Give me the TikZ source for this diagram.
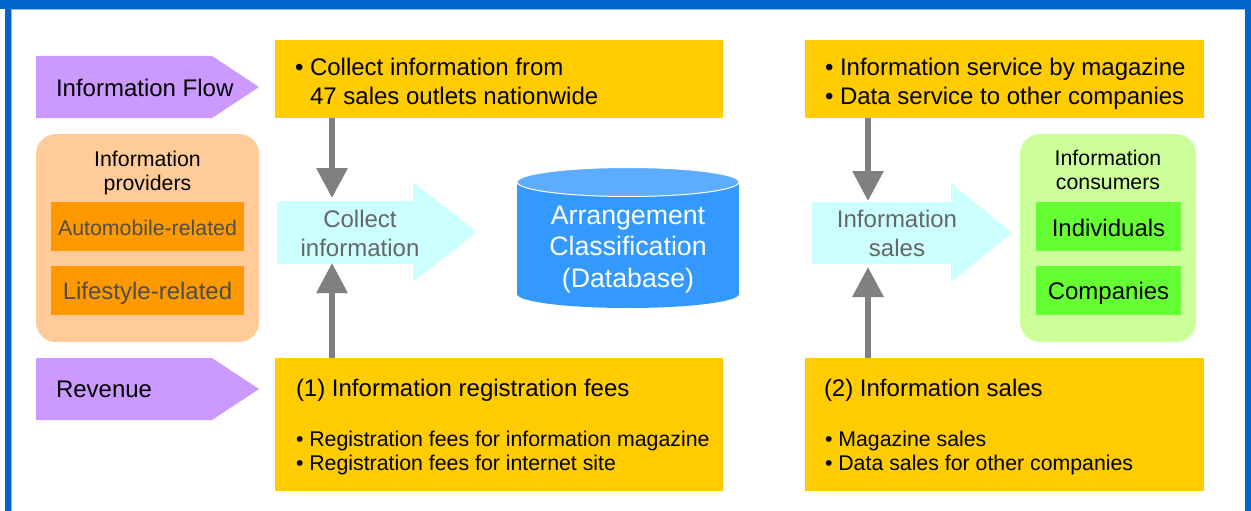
\documentclass[tikz,border=0pt]{standalone}
\usepackage{fontspec}
\setmainfont{Liberation Sans}
\usetikzlibrary{arrows.meta}
\definecolor{frameblue}{HTML}{0066CC}
\definecolor{frameinner}{HTML}{8FBCEB}
\definecolor{flowpurple}{HTML}{CC99FF}
\definecolor{boxyellow}{HTML}{FFCC00}
\definecolor{peach}{HTML}{FFCC99}
\definecolor{orangebox}{HTML}{FF9900}
\definecolor{paleblue}{HTML}{CCFFFF}
\definecolor{arrowgray}{HTML}{808080}
\definecolor{dbblue}{HTML}{3399FF}
\definecolor{dbtop}{HTML}{5CADFF}
\definecolor{lightgreen}{HTML}{CCFF99}
\definecolor{brightgreen}{HTML}{66FF33}
\definecolor{softtext}{HTML}{666666}
\definecolor{darktext}{HTML}{4D4D4D}
\begin{document}
\begin{tikzpicture}[x=1pt,y=-1pt,
  box/.style={anchor=north west, inner sep=0pt, outer sep=0pt},
  yellowbox/.style={box, fill=boxyellow, minimum height=78pt},
  bigyellow/.style={box, fill=boxyellow, minimum height=133pt},
  roundbox/.style={box, rounded corners=20pt, minimum width=#1, minimum height=208pt},
  subbox/.style={box, minimum height=49pt},
  fbig/.style={font=\fontsize{24}{29}\selectfont},
  fsmall/.style={font=\fontsize{21.3}{24}\selectfont},
  fdb/.style={font=\fontsize{26.7}{31.5}\selectfont},
  txt/.style={inner sep=0pt, outer sep=0pt},
  grayarrow/.style={draw=arrowgray, line width=6pt, -{Triangle[width=30pt,length=30pt]}},
  pentagon/.style={fill=flowpurple},
  bigarrow/.style={fill=paleblue}
]
\useasboundingbox (0,0) rectangle (1251,511);
\fill[white] (0,0) rectangle (1251,511);
% frame
\fill[frameblue] (0,0) rectangle (1251,9);
\fill[frameblue] (5,9) rectangle (11,511);
\fill[frameblue] (1245,9) rectangle (1251,511);
\fill[frameinner] (11,9) rectangle (1245,10);
\fill[frameinner] (11,10) rectangle (12,511);

% purple pentagons
\fill[pentagon] (36,56) -- (212,56) -- (259,87) -- (212,118) -- (36,118) -- cycle;
\node[txt, fbig, anchor=west] (flow) at (56,87.5) {Information Flow};
\fill[pentagon] (36,358) -- (212,358) -- (259,389) -- (212,420) -- (36,420) -- cycle;
\node[txt, fbig, anchor=west] (rev) at (56,389) {Revenue};

% yellow boxes top
\node[yellowbox, minimum width=448pt] (collectbox) at (275,40) {};
\node[txt, fbig, anchor=west, align=left] (collecttxt) at (295,81)
  {• Collect information from\\\phantom{• }47 sales outlets nationwide};
\node[yellowbox, minimum width=399pt] (servicebox) at (805,40) {};
\node[txt, fbig, anchor=west, align=left] (servicetxt) at (825,84)
  {• Information service by magazine\\• Data service to other companies};

% yellow boxes bottom
\node[bigyellow, minimum width=448pt] (regbox) at (275,358) {};
\node[txt, fbig, anchor=west] (regtitle) at (296,390) {(1) Information registration fees};
\node[txt, fsmall, anchor=west, align=left] (regitems) at (296,453)
  {• Registration fees for information magazine\\• Registration fees for internet site};
\node[bigyellow, minimum width=399pt] (salesbox) at (805,358) {};
\node[txt, fbig, anchor=west] (salestitle) at (824,390) {(2) Information sales};
\node[txt, fsmall, anchor=west, align=left] (salesitems) at (825,453)
  {• Magazine sales\\• Data sales for other companies};

% providers
\node[roundbox=223pt, fill=peach, minimum height=208pt] (providers) at (36,134) {};
\node[txt, fsmall, align=center] (provtitle) at (147.5,172.5) {Information\\providers};
\node[subbox, fill=orangebox, minimum width=193pt] (auto) at (51,202) {};
\node[txt, fsmall, text=darktext] (autotxt) at ([yshift=-1pt]auto.center) {Automobile-related};
\node[subbox, fill=orangebox, minimum width=193pt] (life) at (51,266) {};
\node[txt, fbig, text=darktext] (lifetxt) at ([yshift=-2.5pt]life.center) {Lifestyle-related};

% consumers
\node[roundbox=176pt, fill=lightgreen] (consumers) at (1020,134) {};
\node[txt, fsmall, align=center] (constitle) at (1108,170) {Information\\consumers};
\node[subbox, fill=brightgreen, minimum width=145pt] (indiv) at (1036,202) {};
\node[txt, fbig] (indivtxt) at ([yshift=-1.5pt]indiv.center) {Individuals};
\node[subbox, fill=brightgreen, minimum width=145pt] (comp) at (1036,266) {};
\node[txt, fbig] (comptxt) at ([yshift=-3pt]comp.center) {Companies};

% big light arrows
\fill[bigarrow] (277,201) -- (413,201) -- (413,182) -- (477,232) -- (413,282) -- (413,264) -- (277,264) -- cycle;
\node[txt, fbig, text=softtext, align=center] (collectarrow) at (360,233) {Collect\\information};
\fill[bigarrow] (812,202) -- (951,202) -- (951,183) -- (1012,233) -- (951,282) -- (951,264) -- (812,264) -- cycle;
\node[txt, fbig, text=softtext, align=center] (salesarrow) at (897,233.5) {Information\\sales};

% database cylinder
\fill[dbblue] (517,182) rectangle (739,294);
\fill[dbblue] (628,294) ellipse [x radius=111pt, y radius=14pt];
\filldraw[fill=dbtop, draw=white, line width=1pt] (628,182) ellipse [x radius=111pt, y radius=14.5pt];
\node[txt, fdb, text=white, align=center] (db) at (628,249.5) {Arrangement\\Classification\\(Database)};

% gray connectors
\coordinate (cinTop) at (332,198);
\coordinate (cinBot) at (332,263);
\coordinate (soutTop) at (868,201);
\coordinate (soutBot) at (868,267);
\draw[grayarrow] (collectbox.south -| cinTop) -- (cinTop);
\draw[grayarrow] (regbox.north -| cinBot) -- (cinBot);
\draw[grayarrow] (servicebox.south -| soutTop) -- (soutTop);
\draw[grayarrow] (salesbox.north -| soutBot) -- (soutBot);
\end{tikzpicture}
\end{document}
